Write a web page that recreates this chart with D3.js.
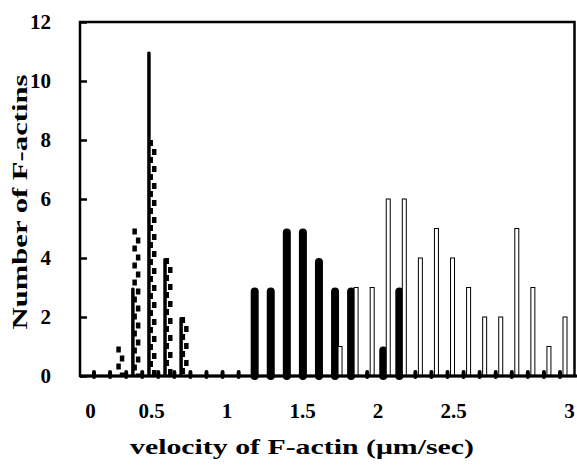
<!DOCTYPE html>
<html>
<head>
<meta charset="utf-8">
<script src="https://cdn.jsdelivr.net/npm/d3@7"></script>
<style>
  body { margin: 0; background: #fff; }
  svg { display: block; }
</style>
</head>
<body>
<div id="chart-container"></div>
<script>
// histogram bins (one slot per 30 categories)
const categories = ["0.0","0.1","0.2","0.3","0.4","0.5","0.6","0.7","0.8","0.9",
                    "1.0","1.1","1.2","1.3","1.4","1.5","1.6","1.7","1.8","1.9",
                    "2.0","2.1","2.2","2.3","2.4","2.5","2.6","2.7","2.8","2.9"];

// dashed (comb) bars
const seriesDashed = [0,1,5,8,4,2,0,0,0,0, 0,0,0,0,0,0,0,0,0,0, 0,0,0,0,0,0,0,0,0,0];
// thin solid bars
const seriesThin   = [0,0,3,11,4,2,0,0,0,0, 0,0,0,0,0,0,0,0,0,0, 0,0,0,0,0,0,0,0,0,0];
// thick rounded black bars
const seriesSolid  = [0,0,0,0,0,0,0,0,0,0, 3,3,5,5,4,3,3,0,1,3, 0,0,0,0,0,0,0,0,0,0];
// open (white) bars
const seriesOpen   = [0,0,0,0,0,0,0,0,0,0, 0,0,0,0,0,1,3,3,6,6, 4,5,4,3,2,2,5,3,1,2];

const xTicks = [0, 0.5, 1, 1.5, 2, 2.5, 3];
const yTicks = [0, 2, 4, 6, 8, 10, 12];

const width = 577;
const height = 468;
const marginTop = 22;
const marginRight = 2;
const marginBottom = 92;
const marginLeft = 80;

const font = "'Liberation Serif', 'Times New Roman', serif";

const y = d3.scaleLinear()
    .domain([0, 12])
    .range([height - marginBottom, marginTop]);

const x = d3.scalePoint()
    .domain(categories)
    .range([94, 560]);

// the printed velocity labels are not evenly spaced in the original
const xLabel = d3.scaleLinear()
    .domain([0, 0.5, 2.5, 3])
    .range([90, 151, 453, 569]);

const svg = d3.create("svg")
    .attr("width", width)
    .attr("height", height);

svg.append("rect")
    .attr("width", width).attr("height", height)
    .attr("fill", "#fff");

const y0 = y(0);
const rows = (arr) => arr.map((v, i) => ({cat: categories[i], v}));

// thick black bars, zeros show as small stubs
svg.append("g")
    .selectAll("rect")
    .data(rows(seriesSolid))
    .join("rect")
    .attr("x", d => x(d.cat) - (d.v > 0 ? 4 : 2))
    .attr("width", d => d.v > 0 ? 8 : 4)
    .attr("y", d => d.v > 0 ? y(d.v) : y0 - 6)
    .attr("height", d => d.v > 0 ? y0 - y(d.v) + 4 : 9)
    .attr("rx", d => d.v > 0 ? 4 : 2)
    .attr("fill", "#000");

// open bars
svg.append("g")
    .selectAll("rect")
    .data(rows(seriesOpen).filter(d => d.v > 0))
    .join("rect")
    .attr("x", d => x(d.cat) + 3)
    .attr("width", 4)
    .attr("y", d => y(d.v))
    .attr("height", d => y0 - y(d.v))
    .attr("fill", "#fff")
    .attr("stroke", "#000")
    .attr("stroke-width", 1);

// thin solid bars
svg.append("g")
    .selectAll("rect")
    .data(rows(seriesThin).filter(d => d.v > 0))
    .join("rect")
    .attr("x", d => x(d.cat) + 5)
    .attr("width", 3.5)
    .attr("y", d => y(d.v))
    .attr("height", d => y0 - y(d.v))
    .attr("rx", 1.5)
    .attr("fill", "#000");

// dashed bars drawn as two staggered dash columns
const dashed = svg.append("g");
[[8.5, 0], [12, -9]].forEach(([dx, off]) => {
    dashed.append("g")
        .selectAll("line")
        .data(rows(seriesDashed).filter(d => d.v > 0))
        .join("line")
        .attr("x1", d => x(d.cat) + dx)
        .attr("x2", d => x(d.cat) + dx)
        .attr("y1", d => y(d.v))
        .attr("y2", y0)
        .attr("stroke", "#000")
        .attr("stroke-width", 4.5)
        .attr("stroke-dasharray", "6 11")
        .attr("stroke-dashoffset", off);
});

// frame
svg.append("rect")
    .attr("x", marginLeft)
    .attr("y", marginTop)
    .attr("width", width - marginLeft - marginRight - 0.5)
    .attr("height", y0 - marginTop)
    .attr("fill", "none")
    .attr("stroke", "#000")
    .attr("stroke-width", 2.5);

svg.append("line")
    .attr("x1", marginLeft).attr("x2", width)
    .attr("y1", y0).attr("y2", y0)
    .attr("stroke", "#000")
    .attr("stroke-width", 3);

// y axis
svg.append("g")
    .attr("transform", `translate(${marginLeft},0)`)
    .call(d3.axisLeft(y).tickValues(yTicks).tickSize(-7).tickPadding(29))
    .call(g => g.select(".domain").remove())
    .call(g => g.selectAll(".tick line").attr("stroke-width", 2.5))
    .call(g => g.selectAll(".tick text")
        .attr("font-family", font)
        .attr("font-weight", "bold")
        .attr("font-size", 21)
        .attr("fill", "#000"));

// x axis labels
svg.append("g")
    .attr("transform", `translate(0,${y0 + 21})`)
    .call(d3.axisBottom(xLabel).tickValues(xTicks).tickFormat(d => String(d)).tickSize(0).tickPadding(6))
    .call(g => g.select(".domain").remove())
    .call(g => g.selectAll(".tick text")
        .attr("font-family", font)
        .attr("font-weight", "bold")
        .attr("font-size", 21)
        .attr("fill", "#000"));

// axis titles
svg.append("text")
    .attr("x", 302)
    .attr("y", 454)
    .attr("text-anchor", "middle")
    .attr("font-family", font)
    .attr("font-weight", "bold")
    .attr("font-size", 22)
    .attr("textLength", 344)
    .attr("lengthAdjust", "spacingAndGlyphs")
    .text("velocity of F-actin (\u03BCm/sec)");

svg.append("text")
    .attr("transform", "translate(27,202) rotate(-90)")
    .attr("text-anchor", "middle")
    .attr("font-family", font)
    .attr("font-weight", "bold")
    .attr("font-size", 22)
    .attr("textLength", 255)
    .attr("lengthAdjust", "spacingAndGlyphs")
    .text("Number of F-actins");

document.getElementById("chart-container").appendChild(svg.node());
</script>
</body>
</html>
